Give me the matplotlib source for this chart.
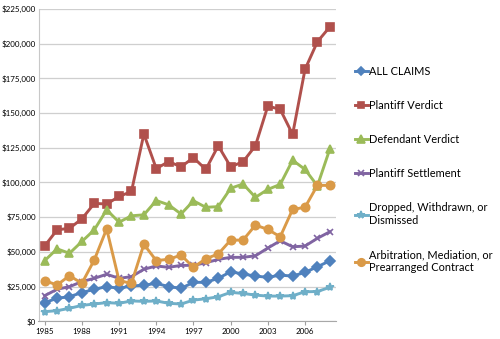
import matplotlib.pyplot as plt
from matplotlib.ticker import FuncFormatter

# Data
years = list(range(1985, 2009))
tick_years = [1985, 1988, 1991, 1994, 1997, 2000, 2003, 2006]

all_claims = [13500, 16600, 17800, 20700, 23100, 25000, 23800, 25500, 26000, 27400, 25000, 23800,
              28100, 28100, 31000, 35700, 34100, 32600, 31700, 33300, 32600, 35300, 39300, 43600]
plaintiff_verdict = [54300, 65900, 67000, 73800, 84900, 84500, 89900, 93500, 134900, 110000, 115000, 111300,
                     117800, 109400, 126400, 111300, 114900, 126400, 155000, 152600, 134600, 181400, 201300, 212000]
defendant_verdict = [43750, 52200, 49000, 57500, 65900, 80300, 71400, 76000, 76700, 87000, 83900, 77300,
                     86800, 82100, 82600, 95800, 98900, 89300, 95000, 98600, 116000, 109400, 97600, 124000]
plaintiff_settlement = [18500, 23100, 25000, 28600, 31000, 33900, 31000, 32200, 37500, 39900, 38900, 40300,
                        40300, 42200, 44600, 46100, 46100, 47200, 52800, 58000, 53700, 54200, 59800, 64500]
dropped = [7000, 7700, 9400, 11500, 12500, 13500, 13000, 14700, 14400, 14700, 13000, 12500,
           15300, 16300, 17700, 20900, 20100, 18900, 18200, 18200, 18500, 21300, 21500, 24500]
arbitration = [29300, 26200, 32900, 27400, 44200, 66600, 29300, 27400, 55500, 43750, 44700, 47700,
               38900, 45100, 48500, 58500, 58500, 69300, 66200, 60900, 80600, 82100, 97900, 97900]

series = [
    ("ALL CLAIMS", all_claims, "#4F81BD", "D", 5),
    ("Plantiff Verdict", plaintiff_verdict, "#B0504C", "s", 5.5),
    ("Defendant Verdict", defendant_verdict, "#9BBB59", "^", 6),
    ("Plantiff Settlement", plaintiff_settlement, "#8064A2", "x", 5),
    ("Dropped, Withdrawn, or\nDismissed", dropped, "#6FAFC8", "*", 6),
    ("Arbitration, Mediation, or\nPrearranged Contract", arbitration, "#DA9A48", "o", 6),
]

plt.rcParams['font.family'] = ['Lato', 'DejaVu Sans']

fig = plt.figure(figsize=(5, 3.39), dpi=100)
ax = fig.add_axes([0.077, 0.052, 0.595, 0.922])

for label, values, color, marker, ms in series:
    ax.plot(years, values, color=color, linewidth=2.1, marker=marker, markersize=ms,
            markeredgewidth=1.2, label=label, solid_joinstyle='round')

ax.set_xlim(1984.5, 2008.5)
ax.set_ylim(0, 225000)
ax.set_yticks(range(0, 225001, 25000))
ax.yaxis.set_major_formatter(FuncFormatter(lambda v, p: "${:,.0f}".format(v)))
ax.set_xticks(tick_years)
ax.tick_params(axis='both', labelsize=5.8, length=0, pad=2)
ax.tick_params(axis='x', length=3, color='#A0A0A0', direction='out', pad=2)

ax.grid(axis='y', color='#CFCFCF', linewidth=0.9)
ax.set_axisbelow(True)
for side in ['top', 'right']:
    ax.spines[side].set_visible(False)
ax.spines['left'].set_color('#C8C8C8')
ax.spines['bottom'].set_color('#A8A8A8')

fig.legend(loc='center left', bbox_to_anchor=(0.69, 0.5), frameon=False, fontsize=7.9,
           handlelength=1.2, handletextpad=0.1, labelspacing=2.1, markerscale=0.9)

fig.savefig("out.png", dpi=100)
